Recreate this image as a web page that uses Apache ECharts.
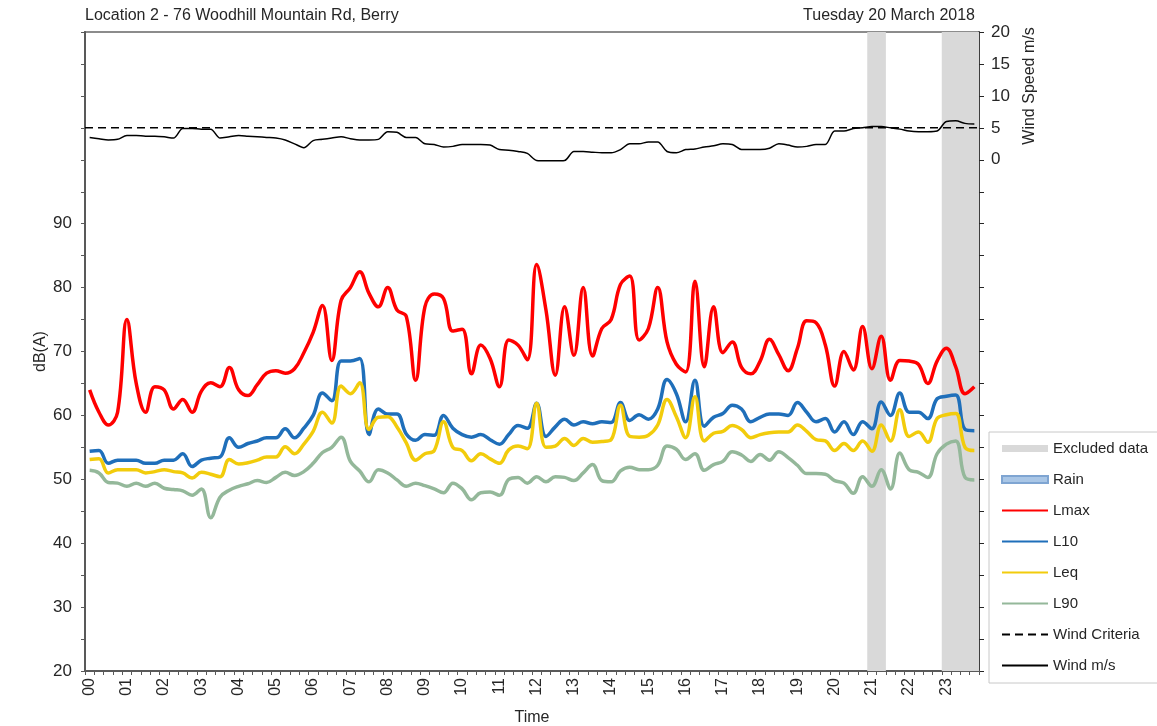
<!DOCTYPE html>
<html>
<head>
<meta charset="utf-8">
<title>Location 2 - noise levels</title>
<script src="https://cdn.jsdelivr.net/npm/echarts@6.0.0/dist/echarts.min.js"></script>
<style>
    html, body { margin: 0; padding: 0; background: #fff; }
    #chart { width: 1157px; height: 726px; }
</style>
</head>
<body>
<div id="chart"></div>
<script>
// 15 minute intervals, 00:00 - 24:00, values plotted at the middle of each interval
var slotHours = 0.25;
var hourLabels = ['00','01','02','03','04','05','06','07','08','09','10','11',
                  '12','13','14','15','16','17','18','19','20','21','22','23'];

// dB(A)
var lmax = [64.0,60.5,58.5,60.5, 75.0,65.0,60.5,64.5, 64.0,61.0,62.5,60.5, 63.8,65.1,64.5,67.5,
            64.0,63.1,64.8,66.6, 67.0,66.6,67.3,69.8, 73.0,77.2,68.6,78.0, 80.0,82.5,79.1,77.0,
            80.0,76.5,75.5,65.5, 77.0,79.0,78.3,73.2, 73.5,66.5,71.0,68.9, 64.5,71.8,71.0,68.7,
            83.6,76.5,66.3,77.0, 69.4,80.0,69.3,73.6, 75.0,80.5,81.8,71.8, 73.6,80.0,71.5,68.0,
            66.8,81.0,67.6,77.0, 69.8,71.5,67.5,66.5, 68.5,71.9,69.5,67.0, 70.5,74.8,74.5,71.0,
            64.6,70.0,67.1,73.9, 67.3,72.4,65.5,68.6, 68.5,68.0,65.0,68.5, 70.5,67.6,63.4,64.5];
var l10 = [54.4,54.5,52.5,53.0, 53.0,53.0,52.5,52.5, 53.0,53.0,54.0,52.0, 53.0,53.3,53.5,56.5,
           55.0,55.6,56.0,56.5, 56.5,57.9,56.5,58.0, 60.0,63.5,62.3,68.5, 68.5,68.9,57.0,61.0,
           60.2,60.2,57.1,56.1, 57.0,56.9,60.0,58.0, 57.0,56.6,57.0,56.2, 55.5,57.0,58.4,58.0,
           61.9,56.7,58.2,59.4, 58.5,59.0,58.7,59.0, 58.9,62.0,59.2,60.1, 59.4,61.0,65.6,63.4,
           59.0,65.5,58.3,59.7, 60.3,61.6,61.0,59.0, 59.7,60.2,60.2,60.0, 62.0,60.5,59.0,59.5,
           57.4,59.0,57.0,59.0, 57.9,62.1,60.0,63.5, 60.5,60.5,59.5,62.6, 63.0,63.2,57.8,57.6];
var leq = [53.1,53.2,51.0,51.5, 51.5,51.5,51.0,51.2, 51.5,51.2,51.0,50.2, 51.1,50.8,50.4,53.1,
           52.4,52.6,53.0,53.5, 53.5,55.1,54.0,55.5, 57.5,60.5,58.8,64.6, 63.4,65.1,57.8,59.7,
           59.8,58.2,55.7,53.0, 54.0,54.5,59.0,55.0, 54.5,52.9,54.0,53.2, 52.5,54.6,55.2,54.8,
           61.9,55.0,55.2,56.4, 55.3,56.4,55.8,55.9, 56.2,61.6,56.7,56.6, 56.9,58.5,62.5,59.8,
           56.5,62.9,56.0,57.2, 57.5,58.4,57.8,56.5, 57.0,57.3,57.4,57.4, 58.5,57.5,56.2,56.0,
           54.5,55.6,54.5,56.0, 54.4,58.5,56.0,60.9, 56.7,57.4,55.8,59.5, 60.1,60.3,55.0,54.5];
var l90 = [51.4,51.0,49.5,49.4, 48.9,49.4,48.9,49.4, 48.6,48.4,48.2,47.5, 48.5,44.0,47.2,48.3,
           48.9,49.3,49.8,49.5, 50.3,51.1,50.6,51.2, 52.5,54.2,55.0,56.6, 52.8,51.3,49.6,51.5,
           51.0,49.9,48.9,49.4, 49.0,48.5,47.9,49.4, 48.5,46.8,47.9,48.0, 47.5,50.0,50.3,49.4,
           50.4,49.6,50.4,50.3, 49.8,51.0,52.3,49.8, 49.6,51.3,51.9,51.5, 51.5,52.2,55.2,54.7,
           53.1,54.0,51.4,52.3, 52.8,54.3,53.8,52.8, 53.9,53.0,54.3,53.4, 52.2,50.9,50.9,50.8,
           49.8,49.4,47.8,50.4, 48.9,51.5,48.5,54.1, 51.5,51.1,50.3,54.0, 55.5,56.0,50.3,49.9];

// m/s
var wind = [3.5,3.3,3.1,3.2, 3.8,3.8,3.7,3.7, 3.6,3.4,4.9,4.9, 4.8,4.8,3.4,3.6,
            3.8,3.7,3.6,3.5, 3.4,3.1,2.5,1.9, 3.0,3.2,3.4,3.6, 3.3,3.1,3.1,3.2,
            4.4,4.3,3.5,3.5, 2.5,2.4,2.0,2.1, 2.4,2.4,2.4,2.3, 1.6,1.5,1.3,1.0,
            -0.1,-0.15,-0.15,-0.1, 1.3,1.3,1.2,1.1, 1.1,1.6,2.5,2.5, 2.8,2.8,1.3,1.1,
            1.6,1.7,2.0,2.2, 2.5,2.4,1.6,1.6, 1.6,1.8,2.5,2.3, 2.0,2.1,2.4,2.4,
            4.5,4.5,4.9,5.0, 5.2,5.2,5.0,4.8, 4.5,4.4,4.4,4.5, 6.0,6.1,5.7,5.6];
var windCriteria = 5;

// excluded periods [start hour, end hour]
var excluded = [[21, 21.5], [23, 24]];

var font = 'Liberation Sans, Arial, sans-serif';
var textColor = '#262626';

function pairs(values) {
    return values.map(function (v, i) {
        return [(i + 0.5) * slotHours, v];
    });
}

var myChart = echarts.init(document.getElementById('chart'));
myChart.setOption({
    animation: false,
    textStyle: { fontFamily: font, color: textColor },
    title: [
        { text: 'Location 2 - 76 Woodhill Mountain Rd, Berry', left: 80, top: 3,
          textStyle: { fontFamily: font, fontSize: 16, fontWeight: 'normal', color: textColor } },
        { text: 'Tuesday 20 March 2018', right: 177, top: 3,
          textStyle: { fontFamily: font, fontSize: 16, fontWeight: 'normal', color: textColor } }
    ],
    grid: {
        left: 85, right: 178, top: 32, bottom: 55,
        outerBoundsMode: 'none',
        show: true, borderColor: '#8c8c8c', borderWidth: 2, backgroundColor: 'transparent'
    },
    legend: {
        orient: 'vertical',
        left: 989, top: 432,
        padding: [9, 30, 10, 12],
        itemGap: 16,
        itemWidth: 46,
        itemHeight: 14,
        borderColor: '#c8c8c8',
        borderWidth: 1,
        backgroundColor: '#fff',
        itemStyle: { opacity: 0 },
        textStyle: { fontFamily: font, fontSize: 15, color: textColor },
        data: [
            { name: 'Excluded data', icon: 'path://M0,0h46v7h-46z', itemStyle: { opacity: 1 } },
            { name: 'Rain', icon: 'path://M0,0h46v7h-46z', itemStyle: { opacity: 1 } },
            'Lmax', 'L10', 'Leq', 'L90', 'Wind Criteria', 'Wind m/s'
        ]
    },
    graphic: [{
        type: 'text',
        x: 1030, y: 86,
        rotation: Math.PI / 2,
        style: {
            text: 'Wind Speed m/s',
            font: '16px ' + font,
            fill: textColor,
            align: 'center',
            verticalAlign: 'middle'
        }
    }],
    xAxis: {
        type: 'value',
        min: 0, max: 24, interval: 1,
        name: 'Time',
        nameLocation: 'middle',
        nameGap: 39,
        nameTextStyle: { fontFamily: font, fontSize: 16, color: textColor },
        axisLine: { onZero: false, lineStyle: { color: '#595959', width: 2 } },
        axisTick: { show: true, length: 4, lineStyle: { color: '#595959' } },
        minorTick: { show: true, splitNumber: 4, length: 4, lineStyle: { color: '#595959' } },
        splitLine: { show: false },
        axisLabel: {
            rotate: 90,
            fontSize: 16,
            color: textColor,
            margin: 7,
            verticalAlign: 'top',
            lineHeight: 9,
            formatter: function (v) {
                return hourLabels[v] || '';
            }
        }
    },
    yAxis: [{
        type: 'value',
        min: 20, max: 120, interval: 5,
        name: 'dB(A)',
        nameLocation: 'middle',
        nameGap: 36,
        nameMoveOverlap: false,
        nameTextStyle: { fontFamily: font, fontSize: 16, color: textColor },
        axisLine: { show: true, lineStyle: { color: '#595959', width: 2 } },
        axisTick: { show: true, length: 4, lineStyle: { color: '#595959' } },
        splitLine: { show: false },
        axisLabel: {
            fontSize: 17, color: textColor, margin: 13,
            formatter: function (v) {
                return (v % 10 === 0 && v <= 90) ? v : '';
            }
        }
    }, {
        type: 'value',
        position: 'right',
        min: -80, max: 20, interval: 5,
        axisLine: { show: true, lineStyle: { color: '#262626', width: 1.5 } },
        axisTick: { show: true, length: 5, lineStyle: { color: '#262626' } },
        splitLine: { show: false },
        axisLabel: {
            fontSize: 17, color: textColor, margin: 12,
            formatter: function (v) {
                return v >= 0 ? v : '';
            }
        }
    }],
    series: [
        {
            name: 'Excluded data',
            type: 'line',
            data: [],
            itemStyle: { color: '#d9d9d9' },
            lineStyle: { color: '#d9d9d9' },
            markArea: {
                silent: true,
                itemStyle: { color: '#d9d9d9' },
                data: excluded.map(function (p) {
                    return [{ xAxis: p[0] }, { xAxis: p[1] }];
                })
            }
        },
        {
            name: 'Rain',
            type: 'line',
            data: [],
            itemStyle: { color: '#a9c6e6', borderColor: '#7fa5d2', borderWidth: 1 },
            lineStyle: { color: '#a9c6e6' }
        },
        {
            name: 'Lmax', type: 'line', data: pairs(lmax),
            smooth: 0.4, showSymbol: false, symbol: 'none',
            itemStyle: { color: '#ff0000' },
            lineStyle: { color: '#ff0000', width: 3.5 }
        },
        {
            name: 'L10', type: 'line', data: pairs(l10),
            smooth: 0.4, showSymbol: false, symbol: 'none',
            itemStyle: { color: '#1f6fba' },
            lineStyle: { color: '#1f6fba', width: 3.5 }
        },
        {
            name: 'Leq', type: 'line', data: pairs(leq),
            smooth: 0.4, showSymbol: false, symbol: 'none',
            itemStyle: { color: '#f2cc0c' },
            lineStyle: { color: '#f2cc0c', width: 3.5 }
        },
        {
            name: 'L90', type: 'line', data: pairs(l90),
            smooth: 0.4, showSymbol: false, symbol: 'none',
            itemStyle: { color: '#94b89a' },
            lineStyle: { color: '#94b89a', width: 3.5 }
        },
        {
            name: 'Wind Criteria', type: 'line', yAxisIndex: 1,
            data: [[0, windCriteria], [24, windCriteria]],
            showSymbol: false, symbol: 'none',
            itemStyle: { color: '#000' },
            lineStyle: { color: '#000', width: 1.5, type: [8, 5] }
        },
        {
            name: 'Wind m/s', type: 'line', yAxisIndex: 1,
            data: pairs(wind),
            smooth: 0.3, showSymbol: false, symbol: 'none',
            itemStyle: { color: '#000' },
            lineStyle: { color: '#000', width: 1.5 }
        }
    ]
});
</script>
</body>
</html>
